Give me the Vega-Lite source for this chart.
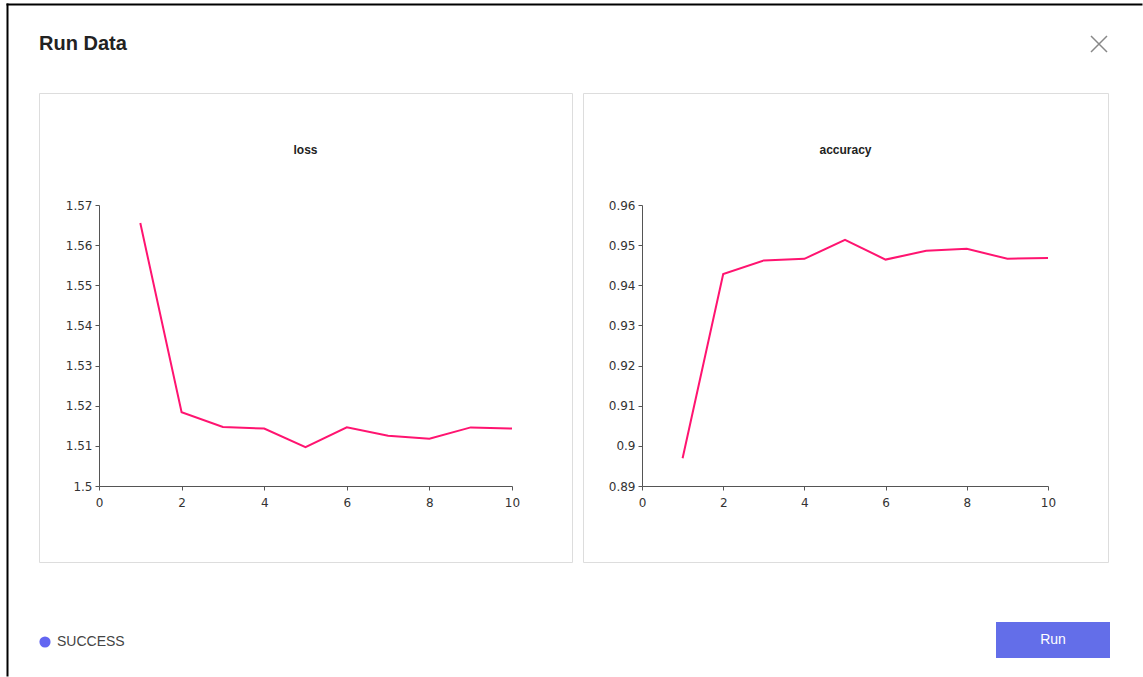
{
  "$schema": "https://vega.github.io/schema/vega-lite/v6.json",
  "background": "white",
  "padding": {"left": 7, "top": 4, "right": 0, "bottom": 0},
  "bounds": "flush",
  "spacing": 596,
  "config": {
    "view": {"stroke": null},
    "font": "DejaVu Sans",
    "axis": {
      "domainColor": "#555",
      "tickColor": "#555",
      "tickSize": 4,
      "labelColor": "#333",
      "labelFont": "DejaVu Sans",
      "labelFontSize": 12,
      "labelPadding": 3,
      "grid": false,
      "title": null
    },
    "axisX": {"labelPadding": 7, "labelFlush": false}
  },
  "vconcat": [
    {
      "bounds": "flush",
      "spacing": 31,
      "vconcat": [
        {
          "width": 1060,
          "height": 36,
          "data": {"values": [{"item": "Run Data"}, {"item": "×"}]},
          "resolve": {"scale": {"x": "independent", "y": "independent"}, "axis": {"x": "independent", "y": "independent"}},
          "layer": [
            {
              "mark": {"type": "point", "size": 0, "opacity": 0},
              "encoding": {
                "x": {"datum": 0.5, "type": "quantitative",
                      "scale": {"domain": [0, 1], "range": [-33, 1103], "nice": false, "zero": false},
                      "axis": {"orient": "top", "offset": 22, "domainColor": "#000", "domainWidth": 2, "ticks": false, "labels": false, "grid": false}},
                "y": {"datum": 0.5, "type": "quantitative",
                      "scale": {"domain": [0, 1], "range": [650, -23], "nice": false, "zero": false},
                      "axis": {"orient": "left", "offset": 32, "domainColor": "#000", "domainWidth": 2, "ticks": false, "labels": false, "grid": false}}
              }
            },
            {
              "transform": [{"filter": "datum.item === 'Run Data'"}],
              "mark": {"type": "text", "align": "left", "baseline": "middle", "font": "Liberation Sans", "fontSize": 20, "fontWeight": "bold", "color": "#222"},
              "encoding": {
                "x": {"field": "item", "type": "nominal", "axis": null,
                      "scale": {"type": "point", "domain": ["Run Data", "×"], "padding": 0}},
                "text": {"field": "item"}
              }
            },
            {
              "transform": [{"filter": "datum.item === '×'"}],
              "mark": {"type": "point", "shape": "M-1,-1L1,1M1,-1L-1,1", "size": 256, "filled": false, "stroke": "#888", "strokeWidth": 1.5, "opacity": 1},
              "encoding": {
                "x": {"field": "item", "type": "nominal", "axis": null,
                      "scale": {"type": "point", "domain": ["Run Data", "×"], "padding": 0}}
              }
            }
          ]
        },
        {
          "bounds": "flush",
          "spacing": 11,
          "hconcat": [
            {
              "width": 533,
              "height": 469,
              "view": {"stroke": "#dddddd", "strokeWidth": 1},
              "title": {"text": "loss", "font": "Liberation Sans", "fontSize": 12, "fontWeight": "bold", "color": "#222", "offset": -64, "frame": "group"},
              "data": {"values": [
                {"epoch": 1, "loss": 1.5655},
                {"epoch": 2, "loss": 1.5184},
                {"epoch": 3, "loss": 1.5147},
                {"epoch": 4, "loss": 1.5143},
                {"epoch": 5, "loss": 1.5097},
                {"epoch": 6, "loss": 1.5146},
                {"epoch": 7, "loss": 1.5125},
                {"epoch": 8, "loss": 1.5118},
                {"epoch": 9, "loss": 1.5146},
                {"epoch": 10, "loss": 1.5143}
              ]},
              "mark": {"type": "line", "color": "#ff1470", "strokeWidth": 2},
              "encoding": {
                "x": {"field": "epoch", "type": "quantitative",
                      "scale": {"domain": [0, 10], "range": [60, 473], "nice": false, "zero": false},
                      "axis": {"offset": -76, "values": [0, 2, 4, 6, 8, 10], "format": "d"}},
                "y": {"field": "loss", "type": "quantitative",
                      "scale": {"domain": [1.5, 1.57], "range": [393, 112], "nice": false, "zero": false},
                      "axis": {"offset": -60, "values": [1.5, 1.51, 1.52, 1.53, 1.54, 1.55, 1.56, 1.57], "format": "~g"}}
              }
            },
            {
              "width": 525,
              "height": 469,
              "view": {"stroke": "#dddddd", "strokeWidth": 1},
              "title": {"text": "accuracy", "font": "Liberation Sans", "fontSize": 12, "fontWeight": "bold", "color": "#222", "offset": -64, "frame": "group"},
              "data": {"values": [
                {"epoch": 1, "accuracy": 0.8969},
                {"epoch": 2, "accuracy": 0.9428},
                {"epoch": 3, "accuracy": 0.9462},
                {"epoch": 4, "accuracy": 0.9466},
                {"epoch": 5, "accuracy": 0.9513},
                {"epoch": 6, "accuracy": 0.9464},
                {"epoch": 7, "accuracy": 0.9486},
                {"epoch": 8, "accuracy": 0.9491},
                {"epoch": 9, "accuracy": 0.9466},
                {"epoch": 10, "accuracy": 0.9468}
              ]},
              "mark": {"type": "line", "color": "#ff1470", "strokeWidth": 2},
              "encoding": {
                "x": {"field": "epoch", "type": "quantitative",
                      "scale": {"domain": [0, 10], "range": [59, 465], "nice": false, "zero": false},
                      "axis": {"offset": -76, "values": [0, 2, 4, 6, 8, 10], "format": "d"}},
                "y": {"field": "accuracy", "type": "quantitative",
                      "scale": {"domain": [0.89, 0.96], "range": [393, 112], "nice": false, "zero": false},
                      "axis": {"offset": -59, "values": [0.89, 0.9, 0.91, 0.92, 0.93, 0.94, 0.95, 0.96], "format": "~g"}}
              }
            }
          ]
        }
      ]
    },
    {
      "bounds": "flush",
      "spacing": 945,
      "hconcat": [
        {
          "width": 12,
          "height": 36,
          "data": {"values": [{"status": "SUCCESS"}]},
          "encoding": {
            "x": {"field": "status", "type": "nominal", "axis": null, "scale": {"type": "point"}}
          },
          "layer": [
            {"mark": {"type": "circle", "size": 125, "color": "#6366f1", "opacity": 1, "yOffset": 2}},
            {"mark": {"type": "text", "align": "left", "baseline": "middle", "dx": 12, "dy": 2, "font": "Liberation Sans", "fontSize": 14, "color": "#444"},
             "encoding": {"text": {"field": "status"}}}
          ]
        },
        {
          "width": 114,
          "height": 36,
          "view": {"fill": "#636ee9", "stroke": null},
          "data": {"values": [{"action": "Run"}]},
          "mark": {"type": "text", "align": "center", "baseline": "middle", "font": "Liberation Sans", "fontSize": 14, "color": "white"},
          "encoding": {"text": {"field": "action"}}
        }
      ]
    }
  ]
}
